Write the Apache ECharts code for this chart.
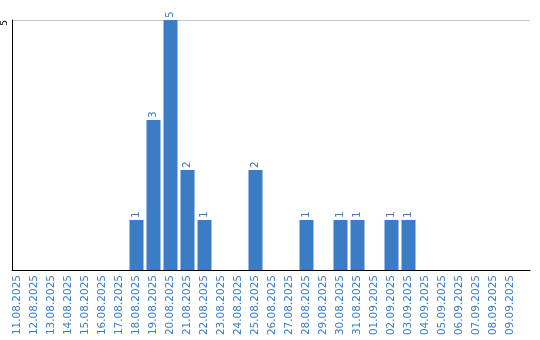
<!DOCTYPE html>
<html><head><meta charset="utf-8">
<script src="https://cdn.jsdelivr.net/npm/echarts@6/dist/echarts.min.js"></script>
<style>html,body{margin:0;padding:0;background:#fff}#c{width:540px;height:340px}</style>
</head><body><div id="c"></div>
<script>
const categories = ["11.08.2025","12.08.2025","13.08.2025","14.08.2025","15.08.2025","16.08.2025","17.08.2025","18.08.2025","19.08.2025","20.08.2025","21.08.2025","22.08.2025","23.08.2025","24.08.2025","25.08.2025","26.08.2025","27.08.2025","28.08.2025","29.08.2025","30.08.2025","31.08.2025","01.09.2025","02.09.2025","03.09.2025","04.09.2025","05.09.2025","06.09.2025","07.09.2025","08.09.2025","09.09.2025"];
const values = [null,null,null,null,null,null,null,1,3,5,2,1,null,null,2,null,null,1,null,1,1,null,1,1,null,null,null,null,null,null];
const yMax = 5;
const blue = '#3b7dc4';
const chart = echarts.init(document.getElementById('c'));
chart.setOption({
  animation:false,
  grid:[
    {left:9, width:510, top:20, bottom:70},
    {left:10, right:10, top:20, bottom:70}
  ],
  xAxis:[
    {gridIndex:0, type:'category', data:categories,
     axisLine:{show:false}, axisTick:{show:false},
     axisLabel:{rotate:90, interval:0, color:blue, fontFamily:'DejaVu Sans', fontSize:10.5, margin:5}},
    {gridIndex:1, type:'value', min:0, max:1, axisLine:{show:true, onZero:false, lineStyle:{color:'#000', width:1}},
     axisTick:{show:false}, axisLabel:{show:false}, splitLine:{show:false}}
  ],
  yAxis:[
    {gridIndex:0, type:'value', min:0, max:yMax, show:false},
    {gridIndex:1, type:'value', min:0, max:yMax, interval:5,
     axisLine:{show:true, lineStyle:{color:'#000', width:1}}, axisTick:{show:false},
     axisLabel:{rotate:90, align:'right', verticalAlign:'bottom', color:'#000', fontFamily:'DejaVu Sans', fontSize:9, margin:3, formatter:v=>v===0?'':String(v)},
     splitLine:{show:true, lineStyle:{color:'#c8c8c8', width:1}}}
  ],
  series:[{
    type:'bar', xAxisIndex:0, yAxisIndex:0, data:values, barWidth:14,
    itemStyle:{color:blue},
    label:{show:true, position:'top', rotate:90, align:'left', verticalAlign:'middle', distance:2,
      color:blue, fontFamily:'DejaVu Sans', fontSize:10.5}
  }]
});
</script></body></html>
